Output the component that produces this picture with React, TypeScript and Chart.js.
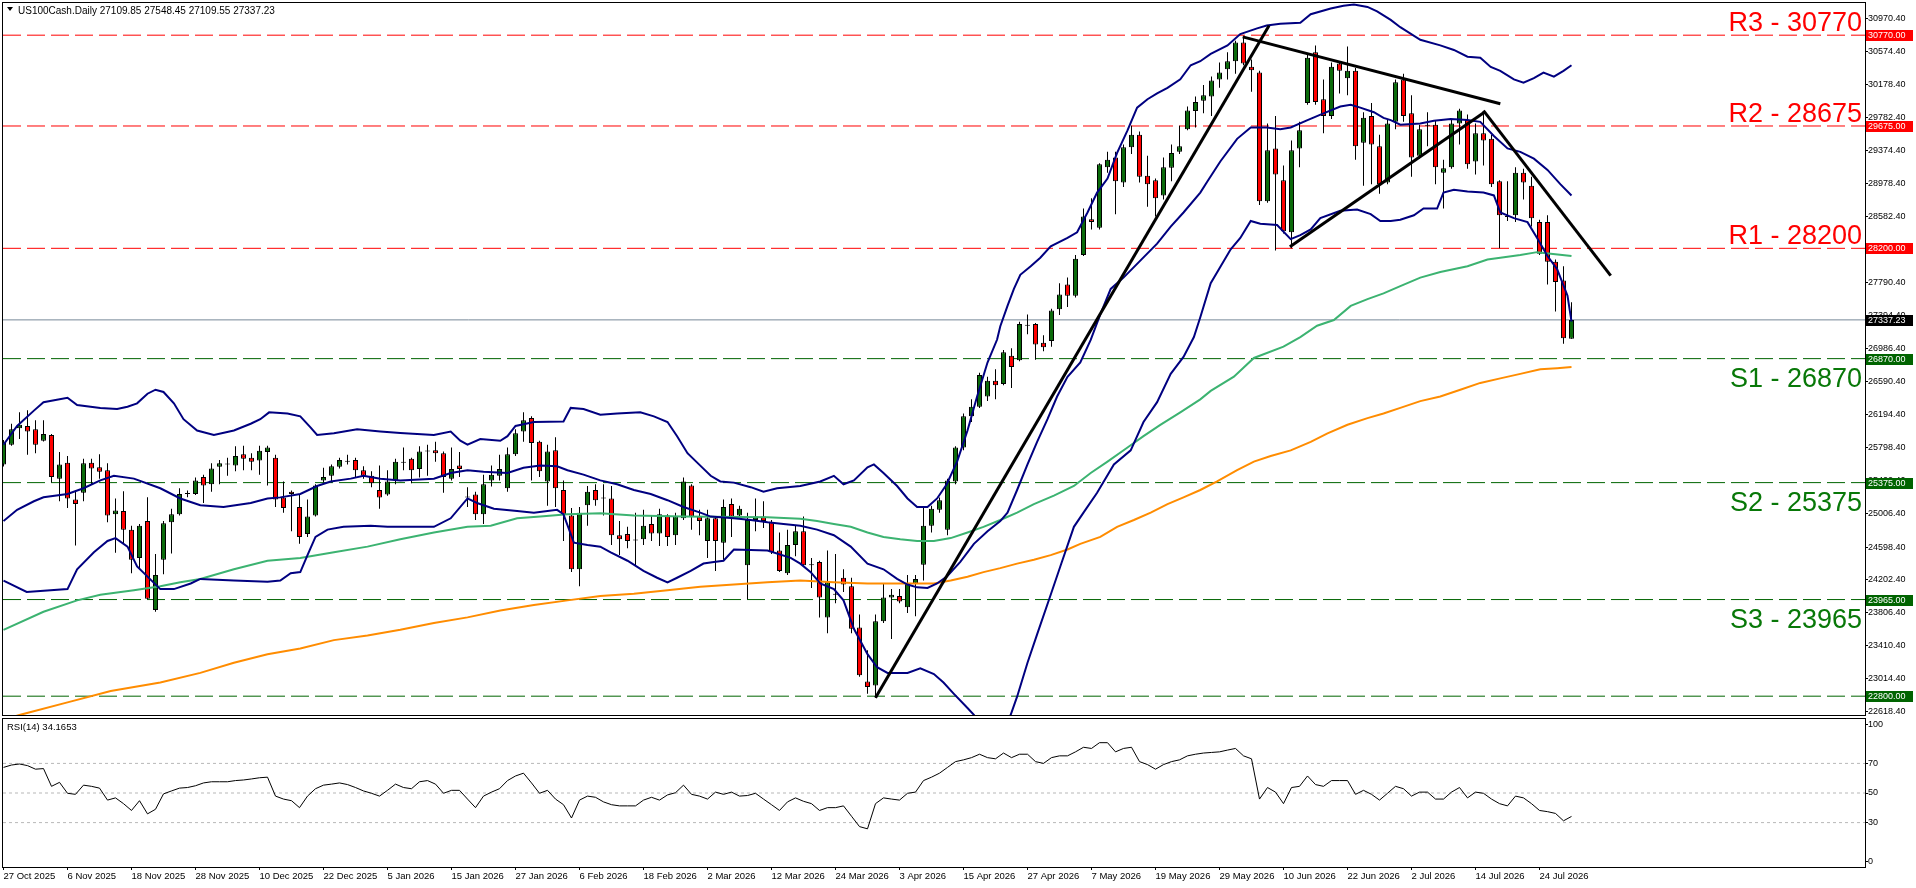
import React, { useEffect, useRef } from 'react';
import { Chart, registerables } from 'chart.js';

Chart.register(...registerables);

const FONT = '"Liberation Sans", Arial, Helvetica, sans-serif';

// ---------- data ----------
const symbolName = 'US100Cash.Daily';
const dateLabels = [
  '27 Oct 2025', '6 Nov 2025', '18 Nov 2025', '28 Nov 2025', '10 Dec 2025', '22 Dec 2025',
  '5 Jan 2026', '15 Jan 2026', '27 Jan 2026', '6 Feb 2026', '18 Feb 2026', '2 Mar 2026',
  '12 Mar 2026', '24 Mar 2026', '3 Apr 2026', '15 Apr 2026', '27 Apr 2026', '7 May 2026',
  '19 May 2026', '29 May 2026', '10 Jun 2026', '22 Jun 2026', '2 Jul 2026', '14 Jul 2026',
  '24 Jul 2026',
];
const BARS_PER_LABEL = 8;

const opens = [
  25594, 25833, 26031, 26058, 26017, 25880, 25948, 25423, 25614, 25170,
  25252, 25614, 25559, 25525, 24993, 25034, 24808, 24467, 24911, 23839,
  24446, 24897, 24993, 25238, 25238, 25443, 25355, 25566, 25594, 25580,
  25717, 25676, 25641, 25744, 25676, 25197, 25266, 25081, 24754, 24979,
  25402, 25457, 25566, 25628, 25648, 25525, 25457, 25286, 25231, 25402,
  25628, 25662, 25539, 25751, 25764, 25730, 25423, 25580, 25197, 25231,
  24993, 25402, 25457, 25307, 25717, 25990, 26153, 25867, 25389, 25764,
  25286, 24979, 24330, 25102, 25286, 25184, 25184, 24740, 24754, 24685,
  24692, 24876, 24760, 24979, 24740, 24945, 25341, 24965, 24671, 24945,
  24651, 25116, 24979, 24378, 24924, 24965, 24897, 24556, 24282, 24624,
  24788, 24385, 24419, 23750, 24023, 24228, 24125, 23627, 22978, 22930,
  23702, 23989, 24009, 23873, 24160, 24385, 24856, 25047, 24808, 25389,
  25798, 26174, 26290, 26413, 26604, 26563, 26905, 26850, 27266, 27287,
  27062, 27082, 27465, 27765, 27629, 28120, 28551, 28448, 29179, 29295,
  28994, 29418, 29568, 29076, 29022, 28837, 29172, 29363, 29636, 29855,
  29978, 30032, 30237, 30360, 30456, 30681, 30388, 30319, 28769, 29404,
  29022, 28394, 29404, 29951, 30565, 29998, 29794, 30429, 30251, 30340,
  29472, 29794, 29431, 28994, 29725, 30237, 29828, 29316, 29677, 29691,
  29111, 29179, 29705, 29746, 29247, 29589, 29520, 29008, 28585, 28598,
  29111, 28953, 28517, 28517, 28038, 27813, 27109.85,
];
const highs = [
  25890, 26085, 26222, 26249, 26126, 26126, 25960, 25744, 25696, 25279,
  25662, 25662, 25717, 25607, 25184, 25272, 24856, 24876, 25198, 24515,
  24911, 25061, 25307, 25280, 25437, 25471, 25607, 25648, 25676, 25812,
  25819, 25730, 25819, 25819, 25710, 25389, 25279, 25238, 25170, 25355,
  25553, 25594, 25676, 25710, 25676, 25573, 25512, 25580, 25525, 25662,
  25798, 25676, 25812, 25832, 25867, 25751, 25798, 25744, 25320, 25266,
  25471, 25580, 25710, 25798, 26017, 26222, 26174, 25880, 25832, 25921,
  25402, 25068, 25081, 25334, 25355, 25355, 25334, 24911, 24843, 25013,
  25047, 24979, 25061, 24993, 25013, 25437, 25355, 25047, 25047, 24965,
  25170, 25184, 25095, 25013, 25184, 25150, 24924, 24774, 24808, 24856,
  24965, 24467, 24433, 24556, 24515, 24330, 24228, 23784, 23354, 23784,
  24160, 24091, 24091, 24262, 24262, 25081, 25095, 25197, 25423, 25812,
  26208, 26379, 26700, 26652, 26741, 26973, 26994, 27314, 27403, 27301,
  27151, 27472, 27779, 27847, 28120, 28680, 28803, 29227, 29363, 29363,
  29452, 29677, 29609, 29316, 29042, 29295, 29452, 29677, 29910, 30032,
  30169, 30271, 30442, 30565, 30702, 30750, 30476, 30340, 29705, 29794,
  29199, 29500, 29725, 30545, 30647, 30237, 30442, 30456, 30633, 30374,
  29841, 29951, 29568, 29746, 30237, 30306, 30046, 29691, 29841, 29746,
  29268, 29746, 29882, 29814, 29705, 29841, 29568, 29022, 29008, 29179,
  29158, 29063, 28544, 28598, 28066, 27984, 27548.45,
];
const lows = [
  25570, 25820, 25901, 25710, 25730, 25870, 25375, 25150, 25068, 24617,
  25150, 25355, 25423, 24897, 24528, 24637, 24282, 24344, 23970, 23818,
  24269, 24521, 24979, 25200, 25225, 25129, 25266, 25355, 25457, 25512,
  25525, 25525, 25471, 25341, 25081, 25013, 24788, 24637, 24719, 24965,
  25375, 25375, 25546, 25594, 25437, 25423, 25320, 25061, 25218, 25355,
  25525, 25368, 25437, 25457, 25628, 25252, 25402, 25443, 25081, 24924,
  24877, 25327, 25402, 25266, 25696, 25867, 25402, 25443, 25095, 25081,
  24671, 24296, 24125, 24856, 25095, 24979, 24624, 24501, 24583, 24378,
  24624, 24671, 24610, 24610, 24624, 24925, 24808, 24740, 24467, 24310,
  24446, 24719, 24945, 23968, 24788, 24829, 24514, 24296, 24262, 24487,
  24364, 24105, 23750, 23559, 23921, 24057, 23559, 23033, 22828, 22780,
  23681, 23490, 23921, 23804, 23763, 24194, 24774, 25013, 24740, 25355,
  25764, 26106, 26276, 26358, 26379, 26550, 26516, 26837, 27164, 26857,
  26959, 27014, 27397, 27492, 27608, 28107, 28428, 28428, 29111, 28612,
  28940, 29336, 28994, 28701, 28585, 28790, 29008, 29336, 29623, 29657,
  29828, 29794, 30135, 30237, 30306, 30408, 30087, 28721, 28749, 28175,
  28380, 28202, 29179, 29930, 29930, 29589, 29760, 30067, 30046, 29268,
  28954, 28974, 28858, 28974, 29636, 29725, 29063, 29281, 29431, 28974,
  28680, 29158, 29452, 29158, 29090, 29199, 28940, 28202, 28530, 28517,
  28790, 28462, 28120, 27765, 27437, 27048, 27109.55,
];
const closes = [
  25867, 26017, 26072, 25990, 25833, 25962, 25443, 25594, 25184, 25116,
  25607, 25546, 25505, 24979, 25040, 24808, 24446, 24856, 23975, 24262,
  24884, 24993, 25238, 25245, 25402, 25341, 25546, 25607, 25600, 25696,
  25662, 25628, 25758, 25798, 25170, 25068, 25238, 24719, 24965, 25341,
  25443, 25573, 25648, 25635, 25525, 25457, 25368, 25197, 25389, 25628,
  25614, 25525, 25751, 25758, 25730, 25443, 25539, 25539, 25204, 24993,
  25355, 25471, 25539, 25717, 25969, 26126, 25853, 25512, 25751, 25307,
  24993, 24330, 25013, 25266, 25163, 25190, 24740, 24692, 24671, 24678,
  24856, 24760, 24993, 24719, 24965, 25389, 24965, 24911, 24945, 24671,
  25081, 24965, 25061, 24924, 24965, 24911, 24535, 24310, 24624, 24788,
  24378, 24378, 23989, 24173, 24030, 24146, 23613, 23053, 22910, 23702,
  23989, 24023, 23941, 24160, 24214, 24856, 25061, 25163, 25402, 25798,
  26174, 26290, 26673, 26604, 26550, 26946, 26768, 27287, 27273, 27041,
  27007, 27451, 27642, 27629, 28073, 28585, 28517, 29213, 29268, 29008,
  29418, 29568, 29063, 28974, 28803, 29179, 29350, 29431, 29862, 29964,
  30046, 30224, 30319, 30456, 30681, 30429, 30347, 28769, 29384, 29090,
  28407, 29384, 29623, 30497, 29964, 29794, 30388, 30340, 30340, 29431,
  29773, 29452, 28974, 29705, 30203, 29794, 29295, 29636, 29684, 29179,
  29165, 29705, 29862, 29213, 29589, 29500, 28974, 28598, 28578, 29111,
  28994, 28564, 28134, 28038, 27793, 27117, 27337.23,
];

// Bollinger bands (bar index, price)
const bbUpper = [
  [0, 25832], [1.7, 26058], [3.8, 26243], [5, 26345], [8, 26399], [9.2, 26311], [12.1, 26276], [14.2, 26263],
  [15.5, 26290], [16.7, 26331], [18, 26447], [19, 26495], [20, 26468], [21.3, 26331], [22.5, 26140], [24.2, 26003],
  [26.3, 25949], [28.8, 26003], [30.9, 26085], [32.1, 26140], [33.2, 26222], [35.5, 26208], [37.1, 26174],
  [38.4, 26038], [39.2, 25949], [41.3, 25969], [44.2, 26017], [47.1, 25990], [49.6, 25972],
  [53.8, 25949], [55.9, 25990], [57.1, 25880], [58, 25832], [59.6, 25901], [62.1, 25880], [63, 25935], [64, 26058],
  [66.3, 26106], [70, 26113], [70.9, 26276], [72.5, 26263], [74.6, 26194],
  [76.7, 26208], [79.6, 26222], [81.3, 26174], [83, 26106], [84.2, 25935], [85.5, 25730], [87.1, 25580],
  [88.4, 25457], [89.6, 25389], [91.3, 25375], [93.4, 25320], [95, 25266], [96.7, 25307], [99.6, 25334],
  [102.1, 25389], [103.8, 25457], [105, 25355], [106.3, 25402], [108, 25559], [108.8, 25594], [110, 25491],
  [111.7, 25334], [113, 25184], [114.2, 25081], [115.5, 25081], [116.7, 25184], [117.9, 25355], [119.2, 25628],
  [120.5, 26003], [121.7, 26413], [123, 26823], [124.2, 27100], [124.6, 27260],
  [125.5, 27506], [126.3, 27710], [127.1, 27881], [128.4, 27984], [129.6, 28086], [130.9, 28223], [133, 28325],
  [134.2, 28393], [135.5, 28632], [136.7, 28872], [138, 29042], [139.2, 29350], [140.5, 29623], [141.7, 29896],
  [143, 29998], [144.2, 30067], [145.5, 30135], [147.1, 30237], [148.4, 30408], [149.6, 30456],
  [150.9, 30545], [153, 30647], [154.6, 30784], [156.7, 30852], [157.9, 30886], [159.6, 30907], [162.1, 30920],
  [163.4, 31023], [165.9, 31091], [167.5, 31125], [168.8, 31139], [170.5, 31111], [171.7, 31057], [173.4, 30954],
  [174.6, 30866], [177.1, 30715], [179.6, 30647], [181.3, 30592], [183, 30510], [184.6, 30497], [185.9, 30387],
  [187.1, 30340], [188.8, 30237], [190, 30196], [191.3, 30251], [192.5, 30319], [193.8, 30271], [195, 30340],
  [196, 30408],
];
const bbMiddle = [
  [0, 24911], [1.7, 25047], [3.8, 25150], [5, 25198], [8, 25238], [10, 25307], [12.1, 25402], [13.8, 25457],
  [16.3, 25423], [19.6, 25307], [22.1, 25184], [24.6, 25102],
  [27.5, 25081], [30.9, 25129], [33, 25184], [34.6, 25197], [37.1, 25238], [39.2, 25334], [40.9, 25389],
  [43.4, 25423], [45, 25457], [47.1, 25423], [49.6, 25402],
  [53.8, 25423], [55.9, 25491], [58, 25525], [60, 25505], [63, 25491], [65, 25553], [67.1, 25580], [69.2, 25573],
  [70.5, 25525], [72.5, 25471], [74.6, 25402],
  [76.7, 25355], [78.8, 25286], [80.9, 25238], [83, 25163], [85, 25081], [87.1, 25013], [88.4, 24965],
  [91.3, 24945], [93.4, 24924], [95.5, 24897], [97.5, 24876], [99.6, 24856],
  [101.7, 24808], [103.8, 24740], [105.9, 24603], [108, 24398], [110, 24330], [111.7, 24214], [113, 24146],
  [114.2, 24112], [115.5, 24105], [116.7, 24159], [117.9, 24241], [119.6, 24419], [121.3, 24637], [123, 24788],
  [124.6, 24911],
  [125.5, 25013], [126.7, 25286], [128, 25594], [129.2, 25867], [130.5, 26140], [131.7, 26413], [133, 26652],
  [134.6, 26823], [135.9, 27096], [137.1, 27403], [138.4, 27710], [140, 27847], [142.1, 28052], [144.2, 28257],
  [145.9, 28462], [147.5, 28632], [149.6, 28872],
  [150.5, 29008], [152.1, 29247], [154.2, 29520], [155.9, 29657], [157.9, 29657], [159.6, 29636], [160.9, 29657],
  [163, 29745], [165, 29828], [167.1, 29910], [168.4, 29930], [169.6, 29896], [171.3, 29841], [172.5, 29773],
  [173.4, 29746], [174.6, 29691],
  [177.1, 29705], [178.8, 29739], [180.9, 29759], [183, 29746], [184.6, 29725], [186.3, 29554], [188, 29404],
  [189.6, 29363], [191.3, 29281], [193, 29145], [194.6, 28974], [196, 28837],
];
const bbLower = [
  [0, 24194], [2.9, 24057], [8, 24091], [9.2, 24330], [11.3, 24535], [13, 24671], [14, 24706], [15.5, 24603],
  [16.7, 24364], [19.6, 24091], [21.3, 24091], [23.4, 24159], [24.6, 24214],
  [28.8, 24194], [33, 24180], [34.6, 24194], [35.9, 24282], [37.1, 24296], [38, 24501], [39, 24720], [40.5, 24808],
  [42.5, 24842], [45.9, 24856], [48, 24842], [49.6, 24842],
  [53.8, 24842], [55.9, 24945], [58, 25184], [59.2, 25129], [61.3, 25061], [64.2, 25033], [66.3, 25013],
  [69.2, 25047], [70, 24993], [71.3, 24651], [73, 24624], [74.6, 24603],
  [75.9, 24535], [78, 24433], [80, 24310], [81.7, 24228], [83, 24173], [84.2, 24228], [85.9, 24310], [87.5, 24399],
  [88.8, 24419], [90, 24433], [91.3, 24569], [95.5, 24556], [98.4, 24467], [99.6, 24398],
  [100.9, 24296], [102.1, 24159], [103.8, 24091], [105, 23955], [106.3, 23613], [108, 23306], [109.2, 23149],
  [110.5, 23080], [113, 23080], [114.6, 23135], [116.3, 23067], [117.5, 22964], [118.8, 22828], [120.5, 22657],
  [121.3, 22575], [123.5, 22250],
  [125.9, 22575], [126.7, 22794], [128, 23203], [129.2, 23545], [130.9, 24023], [132.1, 24364], [133.8, 24842],
  [135, 25013], [136.7, 25252], [138.8, 25594], [140.9, 25764], [142.5, 26106], [144.2, 26345], [145.9, 26686],
  [147.5, 26891], [148.8, 27130], [149.6, 27369],
  [150.9, 27779], [153.4, 28188], [154.6, 28325], [155.9, 28530], [157.1, 28496], [159.2, 28482], [160.9, 28311],
  [162.1, 28359], [163.4, 28427], [164.6, 28564], [167.1, 28653], [169.2, 28667], [170.9, 28612], [172.1, 28530],
  [173.4, 28530], [174.6, 28544],
  [176.3, 28598], [177.5, 28680], [179.2, 28680], [180, 28872], [181.3, 28906], [183, 28886], [185, 28872],
  [186.3, 28838], [187.1, 28632], [188.8, 28564], [190.5, 28516], [191.7, 28325], [193, 28107], [194.2, 27950],
  [195.5, 27629], [196, 27315],
];
// moving averages (bar index, price)
const maGreen = [
  [0, 23600], [5, 23818], [9.2, 23955], [12.1, 24023], [16.3, 24077], [19.6, 24125], [22.1, 24173], [24.6, 24214],
  [28.8, 24330], [33, 24433], [37.1, 24467], [41.3, 24535], [45.5, 24603], [49.6, 24692],
  [53.8, 24774], [58, 24842], [60.9, 24856], [64.2, 24945], [67.1, 24965], [70.5, 24993], [74.6, 25006],
  [78.8, 24979], [85, 24965], [95.5, 24958], [99.6, 24938],
  [101.7, 24911], [103.8, 24876], [105.9, 24842], [108, 24774], [110, 24720], [112.1, 24692], [114.2, 24671],
  [116.3, 24671], [118.4, 24706], [120.5, 24774], [122.5, 24842], [124.6, 24924],
  [126.7, 25013], [128.8, 25115], [131.3, 25218], [133.8, 25334], [135.9, 25491], [138, 25628], [140.5, 25798],
  [142.5, 25935], [144.6, 26072], [147.1, 26222], [149.6, 26379],
  [150.9, 26481], [153.8, 26652], [156.3, 26878], [160, 27014], [162.1, 27130], [164.2, 27267], [166.3, 27335],
  [168.4, 27506], [170.5, 27588], [172.5, 27656], [174.6, 27745],
  [177.1, 27847], [179.6, 27915], [183, 27984], [185.5, 28066], [187.1, 28086], [189.6, 28120], [191.7, 28154],
  [193.4, 28134], [196, 28106],
];
const maOrange = [
  [0, 22520], [2.1, 22575], [8, 22725], [13.4, 22862], [19.6, 22964], [24.6, 23081],
  [28.8, 23203], [33, 23306], [37.1, 23374], [41.3, 23476], [45.5, 23531], [49.6, 23600],
  [53.8, 23681], [58, 23750], [62.1, 23832], [66.3, 23900], [70.5, 23955], [74.6, 24009],
  [78.8, 24036], [83, 24077], [87.1, 24118], [91.3, 24146], [95.5, 24173], [99.6, 24194],
  [103.8, 24173], [108, 24159], [112.1, 24159], [116.3, 24159], [118.4, 24194], [120.5, 24241], [122.5, 24296],
  [124.6, 24344], [126.7, 24398], [128.8, 24446], [130.9, 24501], [133, 24569], [134.6, 24637], [137.1, 24720],
  [139.2, 24842], [141.3, 24924], [143.4, 25013], [145.5, 25115], [147.5, 25197], [149.6, 25286],
  [151.7, 25389], [154.2, 25525], [156.3, 25628], [158.4, 25696], [160.9, 25764], [163.4, 25867], [165.5, 25969],
  [168, 26072], [170.5, 26153], [172.5, 26208], [174.6, 26276],
  [177.1, 26358], [179.6, 26413], [182.1, 26495], [184.6, 26577], [187.1, 26632], [189.6, 26686], [192.1, 26741],
  [194.2, 26755], [196, 26768],
];

// trend lines (bar index, price)
const trendUp = [[109, 22780], [158.2, 30887]];
const triangleTop = [[154.9, 30750], [187.1, 29943]];
const triangleBottom = [[160.8, 28220], [185.2, 29848]];
const trendDown = [[185.0, 29861], [200.9, 27870]];

// levels
const resistanceLevels = [30770, 29675, 28200];
const resistanceTexts = ['R3 - 30770', 'R2 - 28675', 'R1 - 28200'];
const supportLevels = [26870, 25375, 23965];
const supportTexts = ['S1 - 26870', 'S2 - 25375', 'S3 - 23965'];
const extraSupportLevels = [22800];

const priceTicks = [
  30970.4, 30574.4, 30178.4, 29782.4, 29374.4, 28978.4, 28582.4, 28186.4, 27790.4, 27394.4, 26986.4,
  26590.4, 26194.4, 25798.4, 25402.4, 25006.4, 24598.4, 24202.4, 23806.4, 23410.4, 23014.4, 22618.4,
];

const rsiValues = [
  67.3, 68.9, 69.6, 68.5, 66.1, 66.5, 54.5, 57.2, 49.8, 49.1,
  55.3, 54.5, 53.3, 45.2, 46.7, 42.8, 38.2, 44.8, 35.9, 39.0,
  49.4, 51.4, 53.3, 53.7, 54.9, 56.8, 57.6, 57.6, 57.6, 58.4,
  58.8, 59.5, 60.3, 60.7, 47.9, 45.9, 44.8, 40.1, 47.9, 52.9,
  55.3, 56.0, 56.8, 55.7, 53.7, 51.4, 49.8, 47.9, 51.8, 56.0,
  53.7, 52.9, 57.6, 58.4, 56.0, 49.8, 51.8, 51.8, 45.9, 40.1,
  47.9, 50.6, 52.9, 58.4, 61.5, 63.4, 56.8, 49.8, 51.8, 45.9,
  42.1, 33.1, 45.2, 47.9, 47.1, 44.0, 42.1, 41.3, 41.3, 41.3,
  45.2, 47.1, 45.2, 48.7, 50.2, 55.3, 49.1, 47.9, 45.9, 50.6,
  49.1, 50.6, 47.9, 48.3, 49.8, 45.9, 42.1, 38.2, 44.0, 46.7,
  44.4, 42.8, 38.2, 40.1, 40.1, 41.3, 34.3, 27.3, 25.8, 42.8,
  46.7, 45.9, 45.2, 49.8, 50.6, 58.4, 60.7, 63.4, 67.3, 71.2,
  72.4, 73.9, 76.2, 73.9, 73.1, 77.0, 73.9, 76.2, 76.2, 71.2,
  70.0, 73.9, 75.1, 75.1, 77.8, 80.9, 80.1, 84.0, 84.0, 77.8,
  80.1, 80.9, 71.2, 69.2, 66.1, 69.2, 71.2, 72.4, 75.1, 76.2,
  77.0, 77.4, 77.8, 79.0, 80.1, 75.1, 73.1, 45.9, 53.7, 50.6,
  42.8, 53.7, 54.5, 61.5, 55.7, 54.5, 58.4, 58.4, 58.4, 49.1,
  51.8, 49.1, 45.2, 49.8, 54.5, 52.9, 47.9, 50.6, 50.6, 45.9,
  45.9, 50.6, 53.7, 46.7, 50.6, 49.8, 45.9, 42.8, 41.3, 47.9,
  46.7, 42.8, 38.2, 37.4, 36.2, 31.2, 34.1653,
];
const rsiLevels = [70, 50, 30];
const rsiAxisTicks = [96, 70, 50, 30, 4];
const rsiAxisLabels = ['100', '70', '50', '30', '0'];

// ---------- styles / layout ----------
const W = 1916;
const PRICE_H = 717;
const RSI_H = 171;
const AXIS_W = 51;
const X_MIN = -0.0625;
const X_MAX = X_MIN + (W - AXIS_W - 3) / 8;
const P_MIN = 22573;
const P_MAX = 31158;

const RED = '#FF0000';
const DGREEN = '#006400';
const TGREEN = '#087808';
const BULL = '#0B6B0B';
const NAVY = '#000080';

const pts = (arr: number[][]) => arr.map(([x, y]) => ({ x, y }));
const hline = (v: number) => [{ x: X_MIN, y: v }, { x: X_MAX, y: v }];

function lineDs(data: any[], color: string, width: number, order: number, dash: number[] = []) {
  return {
    type: 'line' as const,
    data,
    borderColor: color,
    backgroundColor: color,
    borderWidth: width,
    borderDash: dash,
    pointRadius: 0,
    pointHoverRadius: 0,
    fill: false,
    tension: 0,
    order,
    clip: 0,
  };
}

const pricePlugin = {
  id: 'priceDecor',
  afterDraw(chart: any) {
    const { ctx, chartArea: a } = chart;
    const y = chart.scales.y;
    ctx.save();
    ctx.strokeStyle = '#000';
    ctx.lineWidth = 1;
    ctx.strokeRect(a.left - 0.5, a.top - 0.5, a.right - a.left + 1, a.bottom - a.top + 1);

    // title
    const last = opens.length - 1;
    ctx.fillStyle = '#000';
    ctx.beginPath();
    ctx.moveTo(7, 7);
    ctx.lineTo(13, 7);
    ctx.lineTo(10, 11);
    ctx.closePath();
    ctx.fill();
    ctx.font = `10px ${FONT}`;
    ctx.textAlign = 'left';
    ctx.textBaseline = 'alphabetic';
    ctx.fillText(
      `${symbolName} ${opens[last].toFixed(2)} ${highs[last].toFixed(2)} ${lows[last].toFixed(2)} ${closes[last].toFixed(2)}`,
      18, 14,
    );

    // level texts
    ctx.font = `27px ${FONT}`;
    ctx.textAlign = 'right';
    resistanceLevels.forEach((lv, i) => {
      ctx.fillStyle = RED;
      ctx.fillText(resistanceTexts[i], a.right - 3, y.getPixelForValue(lv) - 4);
    });
    supportLevels.forEach((lv, i) => {
      ctx.fillStyle = TGREEN;
      ctx.fillText(supportTexts[i], a.right - 3, y.getPixelForValue(lv) + 28);
    });

    // axis boxes
    const boxes: [number, string][] = [
      ...resistanceLevels.map((v) => [v, RED] as [number, string]),
      [closes[last], '#000'],
      ...supportLevels.map((v) => [v, DGREEN] as [number, string]),
      ...extraSupportLevels.map((v) => [v, DGREEN] as [number, string]),
    ];
    ctx.font = `9px ${FONT}`;
    ctx.textAlign = 'left';
    ctx.textBaseline = 'middle';
    boxes.forEach(([v, col]) => {
      const py = Math.round(y.getPixelForValue(v));
      ctx.fillStyle = col;
      ctx.fillRect(a.right + 1, py - 5, 47, 11);
      ctx.fillStyle = '#fff';
      ctx.fillText(v.toFixed(2), a.right + 3, py + 0.5);
    });
    ctx.restore();
  },
};

const rsiPlugin = {
  id: 'rsiDecor',
  afterDraw(chart: any) {
    const { ctx, chartArea: a } = chart;
    ctx.save();
    ctx.strokeStyle = '#000';
    ctx.lineWidth = 1;
    ctx.strokeRect(a.left - 0.5, a.top - 0.5, a.right - a.left + 1, a.bottom - a.top + 1);
    ctx.fillStyle = '#000';
    ctx.font = `9.5px ${FONT}`;
    ctx.textAlign = 'left';
    ctx.textBaseline = 'alphabetic';
    ctx.fillText(`RSI(14) ${rsiValues[rsiValues.length - 1].toFixed(4)}`, 7, 13);
    ctx.restore();
  },
};

export default function App() {
  const priceRef = useRef<HTMLCanvasElement>(null);
  const rsiRef = useRef<HTMLCanvasElement>(null);

  useEffect(() => {
    const wickData = highs.map((h, i) => ({ x: i, y: [lows[i], h] }));
    const bodyData = opens.map((o, i) => ({ x: i, y: [o, closes[i]] }));
    const bodyColors = opens.map((o, i) => (closes[i] >= o ? BULL : RED));

    const levelSets = [
      ...resistanceLevels.map((v) => lineDs(hline(v), RED, 1, 20, [18, 6])),
      ...supportLevels.map((v) => lineDs(hline(v), DGREEN, 1, 20, [18, 6])),
      ...extraSupportLevels.map((v) => lineDs(hline(v), DGREEN, 1, 20, [18, 6])),
    ];

    const price = new Chart(priceRef.current as HTMLCanvasElement, {
      type: 'bar',
      data: {
        datasets: [
          ...levelSets,
          lineDs(hline(closes[closes.length - 1]), '#778899', 1, 19),
          {
            type: 'bar',
            data: wickData,
            backgroundColor: '#000',
            borderWidth: 0,
            barThickness: 1,
            grouped: false,
            inflateAmount: 0,
            order: 12,
            clip: 0,
          },
          {
            type: 'bar',
            data: bodyData,
            backgroundColor: bodyColors,
            borderColor: '#000',
            borderWidth: 1,
            borderSkipped: false,
            barThickness: 5,
            minBarLength: 1,
            grouped: false,
            inflateAmount: 0,
            order: 11,
            clip: 0,
          },
          lineDs(pts(maOrange), '#FF8C00', 2, 8),
          lineDs(pts(maGreen), '#3CB371', 2, 7),
          lineDs(pts(bbLower), NAVY, 2, 6),
          lineDs(pts(bbMiddle), NAVY, 2, 5),
          lineDs(pts(bbUpper), NAVY, 2, 4),
          lineDs(pts(trendUp), '#000', 3, 1),
          lineDs(pts(triangleTop), '#000', 3, 1),
          lineDs(pts(triangleBottom), '#000', 3, 1),
          lineDs(pts(trendDown), '#000', 3, 1),
        ] as any,
      },
      options: {
        responsive: false,
        maintainAspectRatio: false,
        animation: false,
        devicePixelRatio: 1,
        events: [],
        layout: { padding: { left: 3, top: 3, right: 0, bottom: 2 } },
        plugins: { legend: { display: false }, tooltip: { enabled: false }, title: { display: false } },
        scales: {
          x: { type: 'linear', min: X_MIN, max: X_MAX, display: false, offset: false },
          y: {
            type: 'linear',
            position: 'right',
            min: P_MIN,
            max: P_MAX,
            afterFit: (s: any) => {
              s.width = AXIS_W;
              s.paddingTop = 0;
              s.paddingBottom = 0;
            },
            afterBuildTicks: (s: any) => {
              s.ticks = priceTicks.map((v) => ({ value: v }));
            },
            ticks: {
              autoSkip: false,
              padding: 0,
              color: '#000',
              font: { family: FONT, size: 9 },
              callback: (v: any) => Number(v).toFixed(2),
            },
            grid: { drawOnChartArea: false, drawTicks: true, tickLength: 3, color: '#000' },
            border: { display: true, color: '#000' },
          },
        },
      } as any,
      plugins: [pricePlugin],
    });

    const rsi = new Chart(rsiRef.current as HTMLCanvasElement, {
      type: 'line',
      data: {
        datasets: [
          ...rsiLevels.map((v) => lineDs(hline(v), '#B8B8B8', 1, 5, [3, 3])),
          lineDs(rsiValues.map((v, i) => ({ x: i, y: v })), '#000', 1, 1),
        ] as any,
      },
      options: {
        responsive: false,
        maintainAspectRatio: false,
        animation: false,
        devicePixelRatio: 1,
        events: [],
        layout: { padding: { left: 3, top: 2, right: 0, bottom: 0 } },
        plugins: { legend: { display: false }, tooltip: { enabled: false } },
        scales: {
          x: {
            type: 'linear',
            position: 'bottom',
            min: X_MIN,
            max: X_MAX,
            offset: false,
            afterFit: (s: any) => {
              s.height = 21;
              s.paddingLeft = 0;
              s.paddingRight = 0;
            },
            afterBuildTicks: (s: any) => {
              s.ticks = dateLabels.map((_, i) => ({ value: i * BARS_PER_LABEL }));
            },
            ticks: {
              autoSkip: false,
              maxRotation: 0,
              minRotation: 0,
              align: 'start',
              padding: 1,
              color: '#000',
              font: { family: FONT, size: 9.5 },
              callback: (v: any) => dateLabels[Math.round(Number(v) / BARS_PER_LABEL)],
            },
            grid: { drawOnChartArea: false, drawTicks: true, tickLength: 3, color: '#000' },
            border: { display: true, color: '#000' },
          },
          y: {
            type: 'linear',
            position: 'right',
            min: 0,
            max: 100,
            afterFit: (s: any) => {
              s.width = AXIS_W;
              s.paddingTop = 0;
              s.paddingBottom = 0;
            },
            afterBuildTicks: (s: any) => {
              s.ticks = rsiAxisTicks.map((v) => ({ value: v }));
            },
            ticks: {
              autoSkip: false,
              padding: 0,
              color: '#000',
              font: { family: FONT, size: 9 },
              callback: (_v: any, idx: number) => rsiAxisLabels[idx],
            },
            grid: { drawOnChartArea: false, drawTicks: true, tickLength: 3, color: '#000' },
            border: { display: true, color: '#000' },
          },
        },
      } as any,
      plugins: [rsiPlugin],
    });

    return () => {
      price.destroy();
      rsi.destroy();
    };
  }, []);

  return (
    <div style={{ position: 'fixed', left: 0, top: 0, width: W, height: PRICE_H + RSI_H, background: '#fff', overflow: 'hidden' }}>
      <canvas
        ref={priceRef}
        width={W}
        height={PRICE_H}
        style={{ position: 'absolute', left: 0, top: 0, width: W, height: PRICE_H }}
      />
      <canvas
        ref={rsiRef}
        width={W}
        height={RSI_H}
        style={{ position: 'absolute', left: 0, top: PRICE_H, width: W, height: RSI_H }}
      />
    </div>
  );
}
